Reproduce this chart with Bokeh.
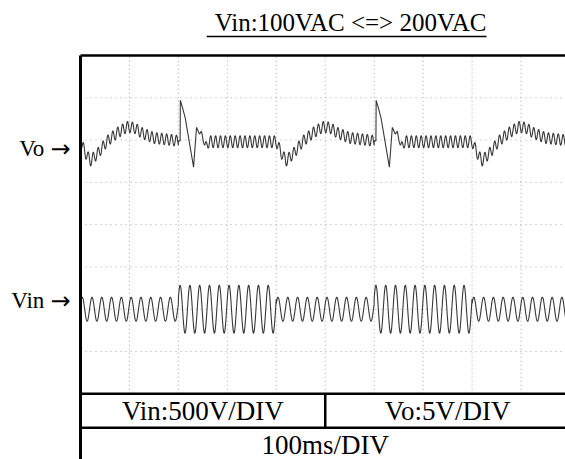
import numpy as np
from bokeh.plotting import figure
from bokeh.models import Range1d
from bokeh.core.properties import value
from bokeh.embed import file_html
from bokeh.resources import INLINE

# ---- scope settings -------------------------------------------------------
time_div_ms = 100          # 100 ms/DIV
vin_div_v = 500            # Vin: 500 V/DIV
vo_div_v = 5               # Vo: 5 V/DIV
n_div_x = 10
n_div_y = 8
vin_center_div = 2         # Vin trace ground level (div from bottom)
vo_center_div = 6          # Vo trace reference level (div from bottom)

# ---- input step sequence --------------------------------------------------
step_times_div = [0, 2, 4, 6, 8, 10]
step_vin_rms = [100, 200, 100, 200, 100]
line_freq_hz = 50
vin_crest_ms = 3.5         # time of first line crest

# ---- Vo response (deviation in V, vs ms after the step) ------------------
# 200 VAC -> 100 VAC
down_ms = [0, 10, 20, 35, 55, 75, 95, 110, 125, 150, 180, 200]
down_dv = [-0.2, -1.5, -2.45, -1.6, -0.1, 0.85, 1.55, 1.45, 0.85, 0.25, 0.05, -0.1]
# 100 VAC -> 200 VAC
up_ms = [0, 3.5, 4.0, 9, 14, 31, 37, 43, 47, 54, 65, 200]
up_dv = [-0.1, -0.1, 4.7, 3.7, 2.6, -3.2, 1.5, 0.7, 1.0, -0.7, -0.2, -0.2]
up_ripple_ms = [0, 45, 65, 200]
up_ripple_w = [0.0, 0.0, 1.0, 1.0]
ripple_pk_v = [0.65, 0.7]  # 100 Hz ripple peak at 100 VAC / 200 VAC

# ---- build traces ---------------------------------------------------------
t_ms = np.arange(0, n_div_x * time_div_ms + 0.1, 0.1)
vin = np.zeros_like(t_ms)
vo_dev = np.zeros_like(t_ms)
for k in range(len(step_vin_rms)):
    a, b = step_times_div[k] * time_div_ms, step_times_div[k + 1] * time_div_ms
    m = (t_ms >= a) & (t_ms < b) if k < len(step_vin_rms) - 1 else (t_ms >= a)
    tt = t_ms[m]
    vin[m] = np.sqrt(2) * step_vin_rms[k] * np.cos(2 * np.pi * line_freq_hz * (tt - vin_crest_ms) / 1000)
    tau = tt - a
    ripple = np.sin(2 * np.pi * 2 * line_freq_hz * (tt - vin_crest_ms) / 1000)
    if step_vin_rms[k] == 200:
        vo_dev[m] = np.interp(tau, up_ms, up_dv) + ripple_pk_v[1] * np.interp(tau, up_ripple_ms, up_ripple_w) * ripple
    else:
        vo_dev[m] = np.interp(tau, down_ms, down_dv) + ripple_pk_v[0] * ripple

t_div = t_ms / time_div_ms
vin_y = vin_center_div + vin / vin_div_v
vo_y = vo_center_div + vo_dev / vo_div_v

# ---- figure: data units are scope divisions -------------------------------
PX_X0, PX_DX = 80.0, 48.95
PX_Y0, PX_DY = 393.3, 42.29
W, H = 565, 459
p = figure(width=W, height=H, output_backend="svg", toolbar_location=None,
           x_range=Range1d(-PX_X0 / PX_DX, (W - PX_X0) / PX_DX),
           y_range=Range1d((PX_Y0 - H) / PX_DY, PX_Y0 / PX_DY),
           min_border=0, outline_line_color=None)
p.axis.visible = False
p.grid.visible = False
p.background_fill_color = "white"
p.border_fill_color = "white"

# dotted graticule
gx = list(range(1, n_div_x))
p.segment(x0=gx, y0=[0] * len(gx), x1=gx, y1=[n_div_y] * len(gx),
          line_color="#a8a8a8", line_width=1, line_dash="1 3")
gy = list(range(1, n_div_y))
p.segment(x0=[0] * len(gy), y0=gy, x1=[n_div_x] * len(gy), y1=gy,
          line_color="#a8a8a8", line_width=1, line_dash="1 4")

# traces
p.line(t_div, vo_y, line_color="#383838", line_width=1.1)
p.line(t_div, vin_y, line_color="#383838", line_width=1.1)

# frame and settings table
row_h = 0.8
p.segment(x0=[0, 0, 0, 0, 5], y0=[n_div_y, n_div_y, 0, -row_h, 0],
          x1=[n_div_x, 0, n_div_x, n_div_x, 5], y1=[n_div_y, -2, 0, -row_h, -row_h],
          line_color="black", line_width=[2.5, 3, 2.5, 2.5, 2.5])

serif = value("Liberation Serif")
p.text(x=[2.5, 7.5], y=[-row_h / 2, -row_h / 2],
       text=[f"Vin:{vin_div_v}V/DIV", f"Vo:{vo_div_v}V/DIV"],
       text_font=serif, text_font_size=value("27px"),
       text_align="center", text_baseline="middle", text_color="black")
p.text(x=[5], y=[-row_h - 0.4], text=[f"{time_div_ms}ms/DIV"],
       text_font=serif, text_font_size=value("27px"),
       text_align="center", text_baseline="middle", text_color="black")

# channel markers: name plus arrow pointing at the trace
mark_y = [vo_center_div - 0.2, vin_center_div + 0.2]
p.text(x=[-0.74, -0.74], y=mark_y, text=["Vo", "Vin"], text_font=serif,
       text_font_size=value("23px"), text_align="right",
       text_baseline="middle", text_color="black")
p.text(x=[-0.2, -0.2], y=mark_y, text=["\u2192", "\u2192"],
       text_font=value("DejaVu Sans"), text_font_size=value("24px"),
       text_align="right", text_baseline="middle", text_color="black")

# title with underline
title = f"Vin:{step_vin_rms[0]}VAC <=> {step_vin_rms[1]}VAC"
title_px = 25
adv = {"V": .722, "i": .278, "n": .5, ":": .278, "0": .5, "1": .5, "2": .5,
       "A": .722, "C": .667, " ": .25, "<": .564, "=": .564, ">": .564}
title_w = sum(adv.get(c, .5) for c in title) * title_px / PX_DX
title_right = (486 - PX_X0) / PX_DX
p.text(x=[title_right], y=[(PX_Y0 - 21.5) / PX_DY], text=[title],
       text_font=serif, text_font_size=value(f"{title_px}px"),
       text_align="right", text_baseline="middle", text_color="black")
p.segment(x0=[title_right - title_w], y0=[(PX_Y0 - 36) / PX_DY],
          x1=[title_right], y1=[(PX_Y0 - 36) / PX_DY],
          line_color="black", line_width=1.5)

open("out.html", "w").write(file_html(p, INLINE))
